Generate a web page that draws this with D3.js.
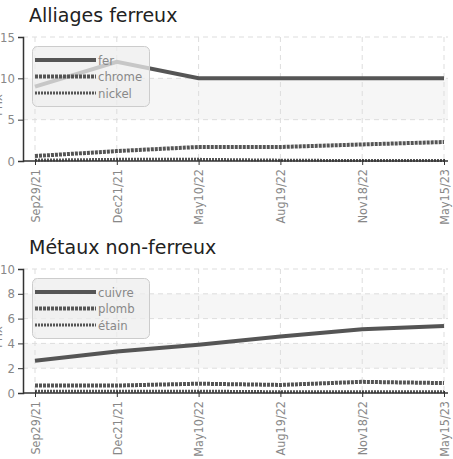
<!DOCTYPE html>
<html>
<head>
<meta charset="utf-8">
<script src="https://cdn.jsdelivr.net/npm/d3@7"></script>
<style>
body { margin: 0; background: #fff; }
svg { display: block; }
.tick text, .legend text, .ytitle { font-family: "DejaVu Sans Condensed", "DejaVu Sans", sans-serif; font-stretch: condensed; font-size: 13px; fill: #888; }
.xaxis .tick text { font-size: 12.5px; }
.title { font-family: "DejaVu Sans", sans-serif; font-size: 19px; fill: #222; }
</style>
</head>
<body>
<svg id="chart" width="453" height="459"></svg>
<script>
// shared x categories
var dates = ["Sep29/21", "Dec21/21", "May10/22", "Aug19/22", "Nov18/22", "May15/23"];

// Alliages ferreux
var fer = [9, 12, 10, 10, 10, 10];
var chrome = [0.6, 1.2, 1.7, 1.7, 2.0, 2.3];
var nickel = [0.1, 0.2, 0.2, 0.1, 0.05, 0.05];
var ferreuxTicks = [0, 5, 10, 15];

// Métaux non-ferreux
var cuivre = [2.6, 3.35, 3.9, 4.55, 5.15, 5.4];
var plomb = [0.6, 0.6, 0.75, 0.65, 0.9, 0.8];
var etain = [0.15, 0.15, 0.15, 0.1, 0.1, 0.1];
var nonFerreuxTicks = [0, 2, 4, 6, 8, 10];

var lineStyles = [
	{ width: 4, dash: null },
	{ width: 4, dash: "3,1" },
	{ width: 3, dash: "2,1" }
];

var svg = d3.select("#chart");

function drawChart(top, title, ticks, series){

	var g = svg.append("g");
	var yTop = top + 37, yBot = top + 161;
	var left = 23, right = 448;

	var x = d3.scalePoint().domain(dates).range([35, 444]);
	var y = d3.scaleLinear().domain([0, d3.max(ticks)]).range([yBot, yTop]);

	g.append("text")
		.attr("class", "title")
		.attr("x", 29)
		.attr("y", top + 22)
		.text(title);

	// alternating bands
	for(var i = 0; i < ticks.length - 1; i++){
		if(i % 2 == 1){
			g.append("rect")
				.attr("x", left)
				.attr("y", y(ticks[i + 1]))
				.attr("width", right - left)
				.attr("height", y(ticks[i]) - y(ticks[i + 1]))
				.attr("fill", "#f6f6f6");
		}
	}

	// grid
	g.selectAll(".hgrid")
		.data(ticks.slice(1))
		.enter().append("line")
		.attr("x1", left).attr("x2", right)
		.attr("y1", function(d){ return y(d); })
		.attr("y2", function(d){ return y(d); })
		.attr("stroke", "#ddd")
		.attr("stroke-dasharray", "5,4");

	g.selectAll(".vgrid")
		.data(dates)
		.enter().append("line")
		.attr("x1", function(d){ return x(d); })
		.attr("x2", function(d){ return x(d); })
		.attr("y1", yTop).attr("y2", yBot)
		.attr("stroke", "#ddd")
		.attr("stroke-dasharray", "5,4");

	// y axis title, mostly clipped off the left edge as in the original
	g.append("text")
		.attr("class", "ytitle")
		.attr("transform", "translate(2," + (top + 105) + ") rotate(-90)")
		.attr("text-anchor", "middle")
		.text("Prix");

	var line = d3.line()
		.x(function(d, i){ return x(dates[i]); })
		.y(function(d){ return y(d); });

	series.forEach(function(s, i){
		g.append("path")
			.datum(s.values)
			.attr("d", line)
			.attr("fill", "none")
			.attr("stroke", "#555")
			.attr("stroke-width", lineStyles[i].width)
			.attr("stroke-dasharray", lineStyles[i].dash);
	});

	// axes
	var yAxis = g.append("g")
		.attr("transform", "translate(" + left + ",0)")
		.call(d3.axisLeft(y).tickValues(ticks).tickSize(5).tickPadding(3));
	yAxis.select(".domain").attr("stroke", "#333").attr("stroke-width", 1.5);
	yAxis.selectAll(".tick line").attr("stroke", "#333");

	var xAxis = g.append("g")
		.attr("class", "xaxis")
		.attr("transform", "translate(0," + yBot + ")")
		.call(d3.axisBottom(x).tickSize(4).tickSizeOuter(0));
	xAxis.select(".domain")
		.attr("d", "M" + left + ",0H" + right)
		.attr("stroke", "#333").attr("stroke-width", 1.5);
	xAxis.selectAll(".tick line").attr("stroke", "#333").attr("y1", -2);
	xAxis.selectAll(".tick text")
		.attr("transform", "rotate(-90)")
		.attr("text-anchor", "end")
		.attr("x", -8)
		.attr("y", 0)
		.attr("dy", "0.35em");

	// legend
	var lg = g.append("g").attr("class", "legend");
	lg.append("rect")
		.attr("x", 32.5).attr("y", top + 46.5)
		.attr("width", 117).attr("height", 60)
		.attr("rx", 5)
		.attr("fill", "#eee")
		.attr("fill-opacity", 0.75)
		.attr("stroke", "#ccc");

	var rows = lg.selectAll(".row")
		.data(series)
		.enter().append("g")
		.attr("transform", function(d, i){ return "translate(35," + (top + 60 + i * 16.5) + ")"; });

	rows.append("line")
		.attr("x1", 0).attr("x2", 61)
		.attr("stroke", "#555")
		.attr("stroke-width", function(d, i){ return lineStyles[i].width; })
		.attr("stroke-dasharray", function(d, i){ return lineStyles[i].dash; });

	rows.append("text")
		.attr("x", 63)
		.attr("dy", "0.35em")
		.text(function(d){ return d.name; });
}

drawChart(0, "Alliages ferreux", ferreuxTicks, [
	{ name: "fer", values: fer },
	{ name: "chrome", values: chrome },
	{ name: "nickel", values: nickel }
]);

drawChart(232, "Métaux non-ferreux", nonFerreuxTicks, [
	{ name: "cuivre", values: cuivre },
	{ name: "plomb", values: plomb },
	{ name: "étain", values: etain }
]);
</script>
</body>
</html>
